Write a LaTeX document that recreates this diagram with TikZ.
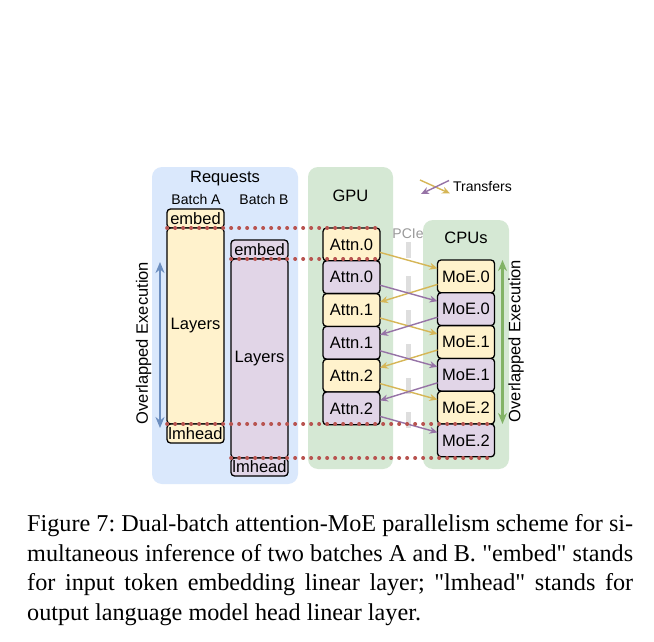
\documentclass[tikz,border=0pt]{standalone}
\usepackage{fontspec}
\setmainfont{Liberation Serif}
\setsansfont{Liberation Sans}
\usetikzlibrary{arrows.meta,calc}
\definecolor{reqblue}{HTML}{DAE8FC}
\definecolor{devgreen}{HTML}{D5E8D4}
\definecolor{batchA}{HTML}{FFF2CC}
\definecolor{batchB}{HTML}{E1D5E7}
\definecolor{flowA}{HTML}{D6B656}
\definecolor{flowB}{HTML}{9673A6}
\definecolor{syncred}{HTML}{B85450}
\definecolor{execblue}{HTML}{6C8EBF}
\definecolor{execgreen}{HTML}{82B366}
\tikzset{
  panel/.style={rectangle,rounded corners=10pt,inner sep=0pt,outer sep=0pt},
  layerbox/.style={draw,rectangle,rounded corners=3.5pt,line width=1.3pt,inner sep=0pt,outer sep=0pt,
    minimum width=57pt,font=\sffamily\fontsize{16.5}{18}\selectfont},
  stagebox/.style={layerbox,minimum height=32.8pt},
  toka/.style={fill=batchA},
  tokb/.style={fill=batchB},
  paneltitle/.style={font=\sffamily\fontsize{16.5}{18}\selectfont},
  smalllabel/.style={font=\sffamily\fontsize{14}{16}\selectfont},
  syncline/.style={draw=syncred,line width=3.6pt,line cap=round,dash pattern=on 0.3pt off 7.7pt},
  xfera/.style={draw=flowA,line width=1.4pt,-{Stealth[length=8pt,width=7pt]}},
  xferb/.style={draw=flowB,line width=1.4pt,-{Stealth[length=8pt,width=7pt]}},
  overlap/.style={line width=2.4pt,{Stealth[length=11pt,width=9pt]}-{Stealth[length=11pt,width=9pt]}}
}

\begin{document}
\begin{tikzpicture}[x=1pt,y=-1pt]
  \path[use as bounding box,fill=white] (0,0) rectangle (654,642);
  % panels
  \node[panel,fill=reqblue,minimum width=146pt,minimum height=317pt] (req) at (225,325.5) {};
  \node[panel,fill=devgreen,minimum width=85pt,minimum height=302pt] (gpu) at (350.5,318) {};
  \node[panel,fill=devgreen,minimum width=86pt,minimum height=249pt] (cpu) at (466,344.5) {};
  \node[paneltitle] (reqT) at (225,179) {Requests};
  \node[smalllabel] (batA) at (196,199) {Batch A};
  \node[smalllabel] (batB) at (264,199) {Batch B};
  \node[paneltitle] (gpuT) at (350.5,196) {GPU};
  \node[paneltitle] (cpuT) at (466,238) {CPUs};

  % PCIe link
  \node[smalllabel,text=black!40] (pcie) at (408,234) {PCIe};
  \coordinate (pcieTop) at (408,242);
  \coordinate (pcieBot) at (408,431);
  \draw[black!13,line width=5pt,dash pattern=on 16pt off 18pt] (pcieTop)--(pcieBot);

  % batch A / batch B requests
  \node[layerbox,toka,minimum height=19pt] (embedA) at (195.5,218.5) {embed};
  \node[layerbox,toka,minimum height=196pt] (layersA) at (195.5,326) {Layers};
  \node[layerbox,toka,minimum height=19pt] (lmheadA) at (195.5,433.5) {lmhead};
  \node[layerbox,tokb,minimum height=19pt] (embedB) at (259.5,249.5) {embed};
  \node[layerbox,tokb,minimum height=199pt] (layersB) at (259.5,358.5) {Layers};
  \node[layerbox,tokb,minimum height=18pt] (lmheadB) at (259.5,467) {lmhead};

  % GPU stages
  \node[stagebox,toka] (attnA0) at (351.5,244.4) {Attn.0};
  \node[stagebox,tokb] (attnB0) at (351.5,277.2) {Attn.0};
  \node[stagebox,toka] (attnA1) at (351.5,310) {Attn.1};
  \node[stagebox,tokb] (attnB1) at (351.5,342.8) {Attn.1};
  \node[stagebox,toka] (attnA2) at (351.5,375.6) {Attn.2};
  \node[stagebox,tokb] (attnB2) at (351.5,408.4) {Attn.2};

  % CPU stages
  \node[stagebox,toka] (moeA0) at (466,276.4) {MoE.0};
  \node[stagebox,tokb] (moeB0) at (466,309.2) {MoE.0};
  \node[stagebox,toka] (moeA1) at (466,342) {MoE.1};
  \node[stagebox,tokb] (moeB1) at (466,374.8) {MoE.1};
  \node[stagebox,toka] (moeA2) at (466,407.6) {MoE.2};
  \node[stagebox,tokb] (moeB2) at (466,440.4) {MoE.2};

  % transfers
  \draw[xfera] ([yshift=-8pt]attnA0.east)--([yshift=8pt]moeA0.west);
  \draw[xfera] ([yshift=-8pt]moeA0.west)--([yshift=8pt]attnA1.east);
  \draw[xfera] ([yshift=-8pt]attnA1.east)--([yshift=8pt]moeA1.west);
  \draw[xfera] ([yshift=-8pt]moeA1.west)--([yshift=8pt]attnA2.east);
  \draw[xfera] ([yshift=-8pt]attnA2.east)--([yshift=8pt]moeA2.west);
  \draw[xferb] ([yshift=-8pt]attnB0.east)--([yshift=8pt]moeB0.west);
  \draw[xferb] ([yshift=-8pt]moeB0.west)--([yshift=8pt]attnB1.east);
  \draw[xferb] ([yshift=-8pt]attnB1.east)--([yshift=8pt]moeB1.west);
  \draw[xferb] ([yshift=-8pt]moeB1.west)--([yshift=8pt]attnB2.east);
  \draw[xferb] ([yshift=-8pt]attnB2.east)--([yshift=8pt]moeB2.west);

  % legend
  \coordinate (legA1) at (420,180);
  \coordinate (legA2) at (450,193.5);
  \coordinate (legB1) at (449,180.5);
  \coordinate (legB2) at (421,194);
  \draw[xfera] (legA1)--(legA2);
  \draw[xferb] (legB1)--(legB2);
  \node[smalllabel,anchor=west,inner sep=0pt] (legT) at (453,187) {Transfers};

  % synchronisation lines
  \draw[syncline] (embedA.south west)--(embedA.south west -| attnA0.east);
  \draw[syncline] (embedB.south west)--(embedB.south west -| attnB0.east);
  \draw[syncline] (lmheadA.north west)--(lmheadA.north west -| moeA2.east);
  \draw[syncline] (lmheadB.north west)--(lmheadB.north west -| moeB2.east);

  % overlapped execution
  \coordinate (ovlTopL) at (160,262);
  \coordinate (ovlBotL) at (160,428);
  \coordinate (ovlTopR) at (502.5,260);
  \coordinate (ovlBotR) at (502.5,424);
  \draw[overlap,execblue] (ovlTopL)--(ovlBotL);
  \draw[overlap,execgreen] (ovlTopR)--(ovlBotR);
  \node[paneltitle,rotate=90] (ovlL) at (143.5,343) {Overlapped Execution};
  \node[paneltitle,rotate=90] (ovlR) at (516,341) {Overlapped Execution};

  % caption
  \node[anchor=north west,inner sep=0pt,text width=606pt,align=justify,
    font=\rmfamily\fontsize{24.2}{29.8}\selectfont\frenchspacing] (cap) at (27,514)
    {Figure 7: Dual-batch attention-MoE parallelism scheme for si-\linebreak
     multaneous inference of two batches A and B. \textquotedbl embed\textquotedbl{} stands\linebreak
     for input token embedding linear layer; \textquotedbl lmhead\textquotedbl{} stands for\linebreak
     output language model head linear layer.};
\end{tikzpicture}
\end{document}
